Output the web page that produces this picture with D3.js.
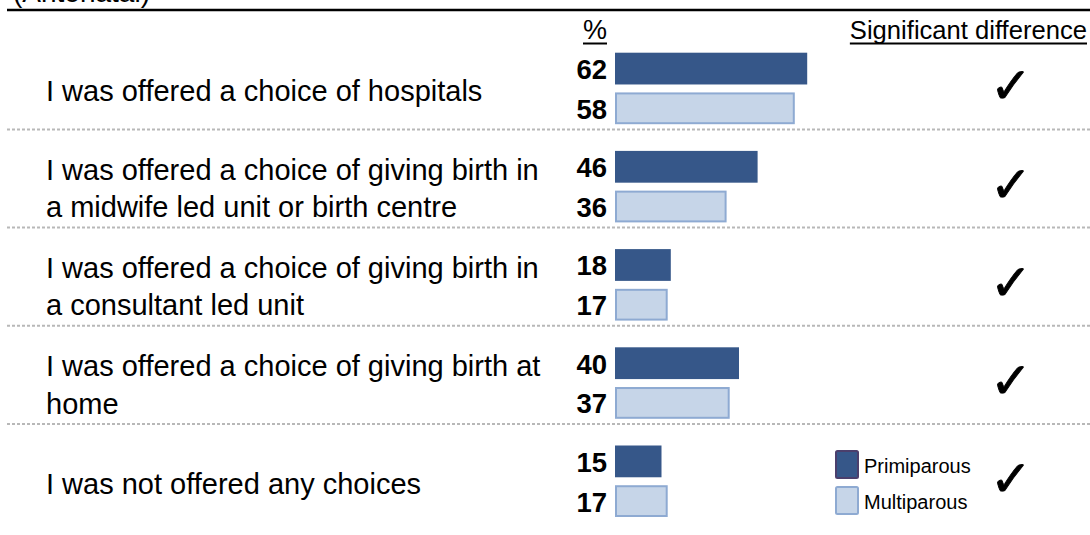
<!DOCTYPE html>
<html>
<head>
<meta charset="utf-8">
<script src="https://cdn.jsdelivr.net/npm/d3@7"></script>
<style>
  body { margin: 0; background: #fff; }
  svg { display: block; font-family: "Liberation Sans", Arial, sans-serif; }
</style>
</head>
<body>
<div id="chart"></div>
<script>
////////////////////////////////////////////////////////////////////////////////
// Data
var statements = [
	["I was offered a choice of hospitals"],
	["I was offered a choice of giving birth in", "a midwife led unit or birth centre"],
	["I was offered a choice of giving birth in", "a consultant led unit"],
	["I was offered a choice of giving birth at", "home"],
	["I was not offered any choices"]
];
var primiparous = [62, 46, 18, 40, 15];
var multiparous = [58, 36, 17, 37, 17];
var significant = [true, true, true, true, true];
var seriesNames = ["Primiparous", "Multiparous"];

var width = 1090, height = 535;
var darkFill = "#365789", lightFill = "#c6d5e8", lightStroke = "#8eaad2";

var svg = d3.select("#chart").append("svg")
	.attr("width", width)
	.attr("height", height);

////////////////////////////////////////////////////////////////////////////////
// Scales
var rows = d3.scaleBand()
	.domain(d3.range(statements.length))
	.range([31.2, 31.2 + 98.2 * statements.length]);

var sub = d3.scaleBand()
	.domain(seriesNames)
	.range([21.5, 93])
	.paddingInner(0.2);

var x = d3.scaleLinear().domain([0, 100]).range([615, 925]);

// (Antenatal) title, mostly cut off at the top
svg.append("text")
	.attr("x", 13).attr("y", 2)
	.style("font-size", "28px")
	.text("(Antenatal)");

// top rule
svg.append("line")
	.attr("x1", 7).attr("x2", width)
	.attr("y1", 10).attr("y2", 10)
	.attr("stroke", "#000").attr("stroke-width", 2.6);

// column headers
svg.append("text")
	.attr("x", 595).attr("y", 39)
	.attr("text-anchor", "middle")
	.style("font-size", "27px")
	.text("%");
svg.append("line")
	.attr("x1", 583).attr("x2", 607).attr("y1", 43.5).attr("y2", 43.5)
	.attr("stroke", "#000").attr("stroke-width", 2);

var sigHead = svg.append("text")
	.attr("x", 1087).attr("y", 39)
	.attr("text-anchor", "end")
	.style("font-size", "25.6px")
	.text("Significant difference");
var bb = sigHead.node().getBBox();
svg.append("line")
	.attr("x1", bb.x).attr("x2", bb.x + bb.width).attr("y1", 43.5).attr("y2", 43.5)
	.attr("stroke", "#000").attr("stroke-width", 2);

////////////////////////////////////////////////////////////////////////////////
// Rows
var row = svg.selectAll("g.row")
	.data(statements)
	.enter().append("g")
	.attr("class", "row")
	.attr("transform", function(d, i) { return "translate(0," + rows(i) + ")"; });

// separators between rows
row.filter(function(d, i) { return i < statements.length - 1; })
	.append("line")
	.attr("x1", 7).attr("x2", width)
	.attr("y1", rows.bandwidth()).attr("y2", rows.bandwidth())
	.attr("stroke", "#b8b8b8")
	.attr("stroke-width", 2)
	.attr("stroke-dasharray", "3,2");

var barMid = sub.range()[0] + (sub.range()[1] - sub.range()[0]) / 2;

// statement labels
row.each(function(lines) {
	var g = d3.select(this);
	var first = lines.length == 1 ? barMid + 13 : barMid - 7;
	lines.forEach(function(t, j) {
		g.append("text")
			.attr("x", 46)
			.attr("y", first + j * 37.5)
			.style("font-size", "29px")
			.style("fill", "#000")
			.text(t);
	});
});

// bars + values
row.each(function(d, i) {
	var g = d3.select(this);
	var vals = [primiparous[i], multiparous[i]];
	seriesNames.forEach(function(s, k) {
		var y0 = sub(s);
		if (k == 0) {
			g.append("rect")
				.attr("x", x(0)).attr("y", y0)
				.attr("width", x(vals[k]) - x(0))
				.attr("height", sub.bandwidth())
				.attr("fill", darkFill);
		} else {
			g.append("rect")
				.attr("x", x(0) + 1).attr("y", y0 + 1)
				.attr("width", x(vals[k]) - x(0) - 2)
				.attr("height", sub.bandwidth() - 2)
				.attr("fill", lightFill)
				.attr("stroke", lightStroke)
				.attr("stroke-width", 2);
		}
		g.append("text")
			.attr("x", 607)
			.attr("y", y0 + sub.bandwidth() / 2 + 10.5)
			.attr("text-anchor", "end")
			.style("font-size", "27.5px")
			.style("font-weight", "bold")
			.text(vals[k]);
	});
	if (significant[i]) {
		g.append("text")
			.attr("x", 1011)
			.attr("y", barMid - 2)
			.attr("text-anchor", "middle")
			.attr("dominant-baseline", "central")
			.style("font-family", "DejaVu Sans")
			.style("font-size", "50px")
			.style("stroke", "#000")
			.style("stroke-width", 0.9)
			.text("\u2713");
	}
});

////////////////////////////////////////////////////////////////////////////////
// Legend (sits in last row)
var legend = svg.append("g")
	.attr("transform", "translate(835," + (rows(statements.length - 1)) + ")");
seriesNames.forEach(function(s, k) {
	legend.append("rect")
		.attr("x", 1).attr("y", 27 + k * 36)
		.attr("width", 22).attr("height", 27)
		.attr("rx", 1.5)
		.attr("fill", k == 0 ? darkFill : lightFill)
		.attr("stroke", k == 0 ? "#4b3f6c" : lightStroke)
		.attr("stroke-width", 2);
	legend.append("text")
		.attr("x", 29).attr("y", 49 + k * 36)
		.style("font-size", "20px")
		.text(s);
});
</script>
</body>
</html>
